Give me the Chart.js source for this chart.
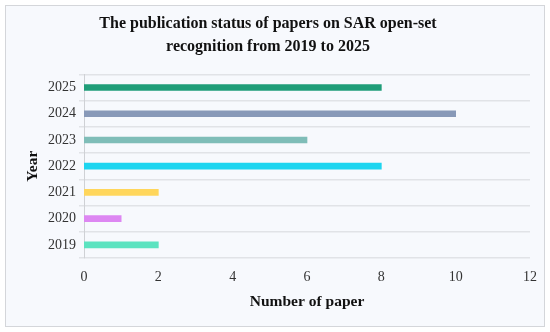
<!DOCTYPE html>
<html>
<head>
<meta charset="utf-8">
<script src="https://cdn.jsdelivr.net/npm/chart.js@4"></script>
<style>
  html, body { margin: 0; padding: 0; background: #ffffff; }
  .frame {
    position: absolute; left: 5px; top: 5px;
    width: 540px; height: 322px;
    box-sizing: border-box;
    border: 1px solid #d4d6da;
    background: #f7f9fd;
  }
  canvas { display: block; }
</style>
</head>
<body>
<div class="frame">
  <canvas id="chart" width="538" height="320"></canvas>
</div>
<script>
const years = ["2019", "2020", "2021", "2022", "2023", "2024", "2025"];
const paperCounts = [2, 1, 2, 8, 6, 10, 8];
const barColors = ["#5ce3c0", "#dd87f2", "#ffd65c", "#1dd5f0", "#7fbdb8", "#8899b8", "#1f9d78"];
const xTicks = [0, 2, 4, 6, 8, 10, 12];

const serif = "'Liberation Serif', 'DejaVu Serif', serif";

const data = {
   labels: years,
   datasets: [
      {
         data: paperCounts,
         backgroundColor: barColors,
         borderWidth: 0,
         barThickness: 6,
      },
   ],
};

const config = {
   type: "bar",
   data: data,
   options: {
      indexAxis: "y",
      responsive: false,
      animation: false,
      events: [],
      layout: { padding: { top: 0, right: 14, bottom: 0, left: 0 } },
      plugins: {
         legend: { display: false },
         tooltip: { enabled: false },
         title: {
            display: true,
            text: [
               "The publication status of papers on SAR open-set",
               "recognition from 2019 to 2025",
            ],
            color: "#111111",
            font: { family: serif, size: 16, weight: "bold", lineHeight: 1.45 },
            padding: { top: 6, bottom: 16 },
         },
      },
      scales: {
         x: {
            min: 0,
            max: 12,
            afterBuildTicks: (scale) => {
               scale.ticks = xTicks.map((v) => ({ value: v }));
            },
            afterFit: (scale) => {
               scale.height = 68;
               scale.paddingRight = 0;
               scale.paddingLeft = 0;
            },
            grid: { display: false, drawTicks: false },
            border: { display: false },
            ticks: {
               color: "#333333",
               padding: 11,
               font: { family: serif, size: 14 },
            },
            title: {
               display: true,
               text: "Number of paper",
               color: "#111111",
               font: { family: serif, size: 15.5, weight: "bold" },
               padding: { top: 4, bottom: 15 },
            },
         },
         y: {
            reverse: true,
            afterFit: (scale) => {
               scale.width = 78;
            },
            grid: {
               offset: true,
               color: "#e1e3e7",
               lineWidth: 1.5,
               tickLength: 5,
            },
            border: { display: true, color: "#cfd1d5", width: 1 },
            ticks: {
               color: "#333333",
               padding: 3,
               font: { family: serif, size: 14 },
            },
            title: {
               display: true,
               text: "Year",
               color: "#111111",
               font: { family: serif, size: 15.5, weight: "bold" },
               padding: { top: 18, bottom: 0 },
            },
         },
      },
   },
};

const myChart = new Chart(document.getElementById("chart"), config);
</script>
</body>
</html>
